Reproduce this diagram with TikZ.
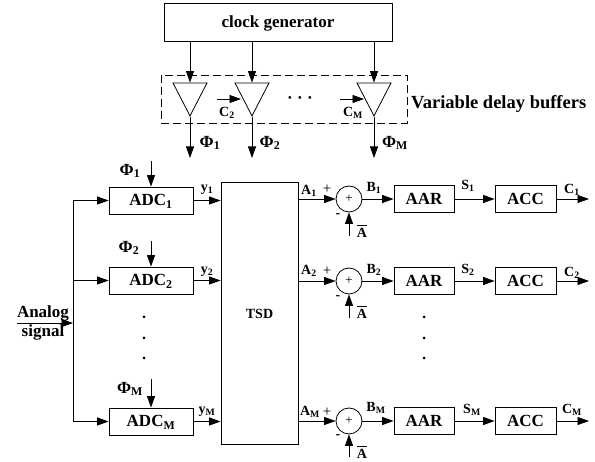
\documentclass[tikz,border=0pt]{standalone}
\usepackage{fontspec}
\setmainfont{Liberation Serif}
\usepackage{tikz}
\usetikzlibrary{arrows.meta,shapes.geometric}
\tikzset{
	wire/.style={line width=0.8pt},
	sig/.style={line width=0.8pt, -{Triangle[length=11.5pt,width=8pt]}},
	blk/.style={draw, line width=0.8pt, inner sep=0pt, text height=11pt, text depth=0pt, font=\bfseries\fontsize{17}{17}\selectfont},
	buf/.style={draw, line width=0.8pt, isosceles triangle, isosceles triangle stretches, shape border rotate=-90, minimum width=34pt, minimum height=33pt, inner sep=0pt, anchor=apex},
	adder/.style={draw, circle, line width=0.8pt, minimum size=26pt, inner sep=0pt, font=\fontsize{13}{13}\selectfont},
	lab/.style={inner sep=0pt, font=\bfseries\fontsize{14}{14}\selectfont},
	biglab/.style={inner sep=0pt, font=\bfseries\fontsize{17}{17}\selectfont},
	dot/.style={circle, fill, minimum size=3pt, inner sep=0pt}
}
\newcommand{\low}[1]{\textsubscript{#1}}
\newcommand{\Abar}{$\overline{\mbox{\rule{0pt}{11pt}A}}$}
\begin{document}
\begin{tikzpicture}[x=1pt,y=-1pt]
	\useasboundingbox (0,0) rectangle (595,462);
	% clock and buffers
	\node[blk, minimum width=228pt, minimum height=38pt] (clk) at (278,22) {clock generator};
	\node[draw, dashed, line width=0.8pt, dash pattern=on 8pt off 4pt, minimum width=246pt, minimum height=48pt] (dbox) at (284,99) {};
	\node[buf] (buf1) at (190,117) {};
	\node[buf] (buf2) at (252,117) {};
	\node[buf] (bufM) at (374,117) {};
	\draw[sig] (clk.south -| buf1.apex) -- (buf1.north);
	\draw[sig] (clk.south -| buf2.apex) -- (buf2.north);
	\draw[sig] (clk.south -| bufM.apex) -- (bufM.north);
	\coordinate (out1) at (190,158);
	\coordinate (out2) at (252,158);
	\coordinate (outM) at (374,158);
	\draw[sig] (buf1.apex) -- (out1);
	\draw[sig] (buf2.apex) -- (out2);
	\draw[sig] (bufM.apex) -- (outM);
	\coordinate (ctl2) at (217,99);
	\coordinate (ctlM) at (340,99);
	\draw[sig] (ctl2) -- (241,99);
	\draw[sig] (ctlM) -- (364,99);
	\node[lab] (lc2) at (227,113) {C\low{2}};
	\node[lab] (lcM) at (353,113) {C\low{M}};
	\node[biglab] (ldots) at (300,100) {· · ·};
	\node[biglab, anchor=west, font=\bfseries\fontsize{18.5}{18.5}\selectfont] (lvar) at (411,104) {Variable delay buffers};
	\node[biglab] (lp1) at (210,143) {Φ\low{1}};
	\node[biglab] (lp2) at (270,143) {Φ\low{2}};
	\node[biglab] (lpM) at (395,143) {Φ\low{M}};
	% converters
	\node[blk, minimum width=84pt, minimum height=27pt] (adc1) at (151,200.5) {ADC\low{1}};
	\node[blk, minimum width=84pt, minimum height=27pt] (adc2) at (151,280.5) {ADC\low{2}};
	\node[blk, minimum width=84pt, minimum height=27pt] (adcM) at (151,421.5) {ADC\low{M}};
	\node[blk, minimum width=77pt, minimum height=262pt, font=\bfseries\fontsize{14}{14}\selectfont] (tsd) at (259.5,313) {TSD};
	\coordinate (in) at (17,323);
	\coordinate (bus) at (73,323);
	\draw[sig] (in) -- (bus);
	\draw[wire] (adc1.west -| bus) -- (adcM.west -| bus);
	\draw[sig] (adc1.west -| bus) -- (adc1.west);
	\draw[sig] (adc2.west -| bus) -- (adc2.west);
	\draw[sig] (adcM.west -| bus) -- (adcM.west);
	\node[biglab] (lana) at (43,313) {Analog};
	\node[biglab] (lsig) at (43,332) {signal};
	\coordinate (p1) at (151,161);
	\coordinate (p2) at (151,241);
	\coordinate (pM) at (151,379);
	\draw[sig] (p1) -- (adc1.north -| p1);
	\draw[sig] (p2) -- (adc2.north -| p2);
	\draw[sig] (pM) -- (adcM.north -| pM);
	\node[biglab] (lq1) at (130,171) {Φ\low{1}};
	\node[biglab] (lq2) at (129,248) {Φ\low{2}};
	\node[biglab] (lqM) at (130,389) {Φ\low{M}};
	\draw[sig] (adc1.east) -- (adc1.east -| tsd.west);
	\draw[sig] (adc2.east) -- (adc2.east -| tsd.west);
	\draw[sig] (adcM.east) -- (adcM.east -| tsd.west);
	\node[lab] (ly1) at (207,190) {y\low{1}};
	\node[lab] (ly2) at (207,272) {y\low{2}};
	\node[lab] (lyM) at (207,412) {y\low{M}};
	\node[dot] (d1) at (144,317) {};
	\node[dot] (d2) at (144,338) {};
	\node[dot] (d3) at (144,358) {};
	% adders
	\node[adder] (sum1) at (349,199) {+};
	\node[adder] (sum2) at (349,281) {+};
	\node[adder] (sumM) at (349,421) {+};
	\draw[sig] (tsd.east |- sum1.west) -- (sum1.west);
	\draw[sig] (tsd.east |- sum2.west) -- (sum2.west);
	\draw[sig] (tsd.east |- sumM.west) -- (sumM.west);
	\coordinate (m1) at (349,236);
	\coordinate (m2) at (349,318);
	\coordinate (mM) at (349,457);
	\draw[sig] (m1) -- (sum1.south);
	\draw[sig] (m2) -- (sum2.south);
	\draw[sig] (mM) -- (sumM.south);
	\node[lab] (la1) at (309,191) {A\low{1}};
	\node[lab] (la2) at (309,271) {A\low{2}};
	\node[lab] (laM) at (310,412) {A\low{M}};
	\node[lab, font=\fontsize{15}{15}\selectfont] (lpl1) at (327,189) {+};
	\node[lab, font=\fontsize{15}{15}\selectfont] (lpl2) at (327,271) {+};
	\node[lab, font=\fontsize{15}{15}\selectfont] (lplM) at (327,412) {+};
	\node[lab] (lmi1) at (338,216) {-};
	\node[lab] (lmi2) at (338,298) {-};
	\node[lab] (lmiM) at (338,437) {-};
	\node[lab] (lb1) at (362,231) {\Abar};
	\node[lab] (lb2) at (362,312) {\Abar};
	\node[lab] (lbM) at (362,452) {\Abar};
	% averaging and correction
	\node[blk, minimum width=60pt, minimum height=27pt] (aar1) at (424,199) {AAR};
	\node[blk, minimum width=60pt, minimum height=27pt] (aar2) at (424,281) {AAR};
	\node[blk, minimum width=60pt, minimum height=27pt] (aarM) at (424,421) {AAR};
	\node[blk, minimum width=61pt, minimum height=27pt] (acc1) at (525.5,199) {ACC};
	\node[blk, minimum width=61pt, minimum height=27pt] (acc2) at (525.5,281) {ACC};
	\node[blk, minimum width=61pt, minimum height=27pt] (accM) at (525.5,421) {ACC};
	\draw[sig] (sum1.east) -- (aar1.west);
	\draw[sig] (sum2.east) -- (aar2.west);
	\draw[sig] (sumM.east) -- (aarM.west);
	\draw[sig] (aar1.east) -- (acc1.west);
	\draw[sig] (aar2.east) -- (acc2.west);
	\draw[sig] (aarM.east) -- (accM.west);
	\coordinate (c1) at (589,199);
	\coordinate (c2) at (589,281);
	\coordinate (cM) at (589,421);
	\draw[sig] (acc1.east) -- (c1);
	\draw[sig] (acc2.east) -- (c2);
	\draw[sig] (accM.east) -- (cM);
	\node[lab] (lb1a) at (374,188) {B\low{1}};
	\node[lab] (lb2a) at (374,270) {B\low{2}};
	\node[lab] (lbMa) at (376,408) {B\low{M}};
	\node[lab] (ls1) at (468,186) {S\low{1}};
	\node[lab] (ls2) at (468,270) {S\low{2}};
	\node[lab] (lsM) at (472,410) {S\low{M}};
	\node[lab] (lc1) at (572,190) {C\low{1}};
	\node[lab] (lc2b) at (572,273) {C\low{2}};
	\node[lab] (lcMb) at (572,410) {C\low{M}};
	\node[dot] (e1) at (424,317) {};
	\node[dot] (e2) at (424,338) {};
	\node[dot] (e3) at (424,358) {};
\end{tikzpicture}
\end{document}
